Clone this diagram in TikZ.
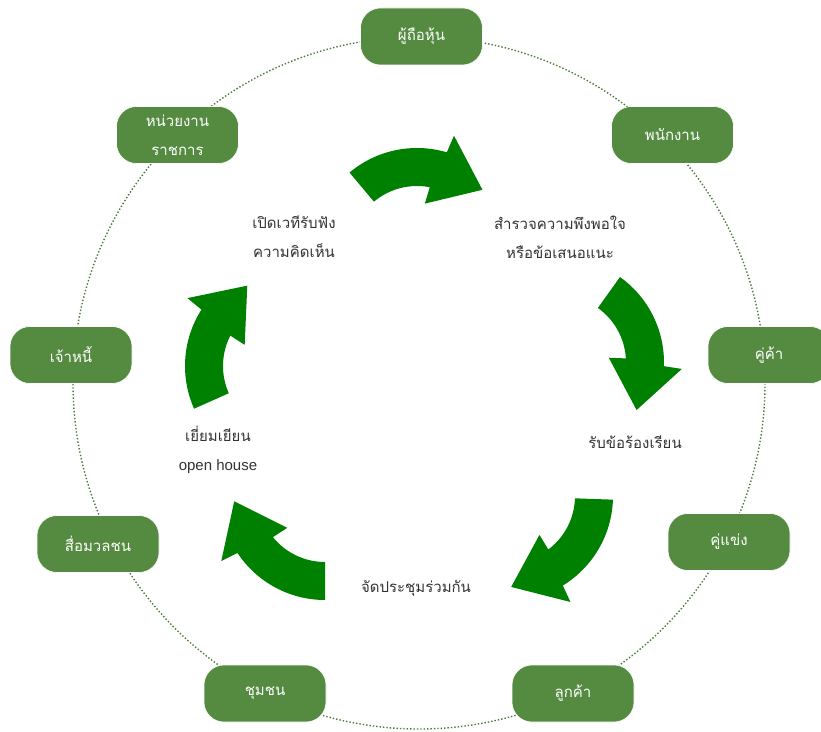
\documentclass[tikz,border=0pt]{standalone}
\usepackage{fontspec}
\setmainfont{Liberation Sans}
\newfontfamily\thaifont[Script=Thai]{Loma}
\definecolor{boxgreen}{RGB}{84,139,64}
\definecolor{arrowgreen}{RGB}{0,128,0}
\definecolor{ringgreen}{RGB}{70,125,55}
\definecolor{textgray}{RGB}{51,51,51}

\begin{document}
\begin{tikzpicture}[x=1pt,y=1pt,
  stake/.style={draw=white, line width=0.6pt, fill=boxgreen, rounded corners=20pt,
    minimum width=122pt, minimum height=57pt, inner sep=0pt, align=center,
    text=white, font=\thaifont\fontsize{15}{29}\selectfont},
  stepnote/.style={text=textgray, align=center, font=\thaifont\fontsize{15}{29}\selectfont}]
\useasboundingbox (0,0) rectangle (821,731);

% ring of stakeholders
\draw[ringgreen, dotted, line width=1.4pt] (419,348) circle[radius=346pt];

\node[stake] (holder) at (421.5,694.5) {ผู้ถือหุ้น};
\node[stake] (staff) at (672.5,596) {พนักงาน};
\node[stake] (partner) at (769,376) {คู่ค้า};
\node[stake] (rival) at (729,189) {คู่แข่ง};
\node[stake] (client) at (573,37.5) {ลูกค้า};
\node[stake] (community) at (265,37.5) {ชุมชน};
\node[stake] (media) at (98,187) {สื่อมวลชน};
\node[stake] (creditor) at (71,376) {เจ้าหนี้};
\node[stake] (agency) at (177.5,596) {หน่วยงาน\\ราชการ};

% cycle arrows: centre of bend / turn
\foreach \cx/\cy/\r in {417/478/0, 559/368.5/-75.5, 508/235/-132, 325/236/140, 290/365/74}
  \fill[arrowgreen, shift={(\cx,\cy)}, rotate=\r] (130:105pt)
    arc[start angle=130, end angle=73.5, radius=105pt]
    -- (72.5:123pt) -- (44:91pt) -- (81:50pt) -- (79:67pt)
    arc[start angle=79, end angle=130, radius=67pt] -- cycle;

% steps
\node[stepnote] (forum) at (294,494) {เปิดเวทีรับฟัง\\ความคิดเห็น};
\node[stepnote] (survey) at (560,494) {สำรวจความพึงพอใจ\\หรือข้อเสนอแนะ};
\node[stepnote] (complaint) at (635,289) {รับข้อร้องเรียน};
\node[stepnote] (meeting) at (416,143) {จัดประชุมร่วมกัน};
\node[stepnote] (visit) at (218,281) {เยี่ยมเยียน\\{\rmfamily open house}};

\end{tikzpicture}
\end{document}
